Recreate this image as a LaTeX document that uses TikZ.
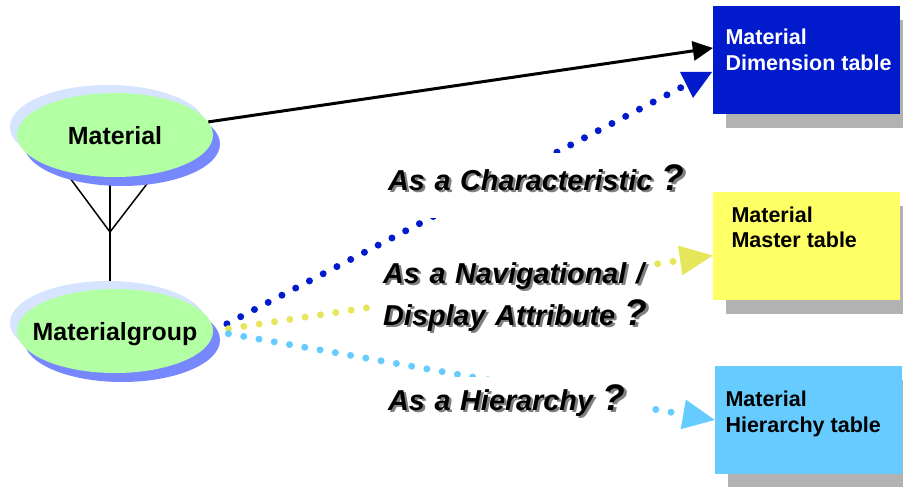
\documentclass[tikz,border=0pt]{standalone}
\usepackage{fontspec}
\setmainfont{Liberation Sans}
\usetikzlibrary{arrows.meta,shapes.geometric,shadows,backgrounds}

\definecolor{verde}{RGB}{179,255,163}
\definecolor{lila}{RGB}{214,228,255}
\definecolor{azulmed}{RGB}{119,136,255}
\definecolor{azulosc}{RGB}{0,26,204}
\definecolor{amarillo}{RGB}{255,255,102}
\definecolor{amarillopunto}{RGB}{230,230,90}
\definecolor{celeste}{RGB}{102,204,255}
\definecolor{gris}{RGB}{178,178,178}

% texto con sombra gris
\newcommand{\consombra}[1]{\leavevmode\rlap{\raisebox{-2.5pt}{\hspace*{2.5pt}\textcolor{gray}{#1}}}\mbox{#1}}
\newcommand{\preg}{{\fontsize{37}{37}\selectfont ?}}

\begin{document}
\begin{tikzpicture}[x=1pt, y=-1pt,
        elipse/.style={ellipse, fill=verde, minimum width=196pt, minimum height=84pt,
            inner xsep=-15pt, inner ysep=0pt,
            font=\fontsize{24.9}{26}\selectfont\bfseries, text height=18pt, text depth=0pt,
            general shadow={fill=lila, shadow xshift=-7pt, shadow yshift=8pt},
            general shadow={fill=azulmed, shadow xshift=7pt, shadow yshift=-9pt}},
        tabla/.style={rectangle, minimum width=187pt, minimum height=108pt, inner sep=0pt,
            drop shadow={shadow xshift=13pt, shadow yshift=-14pt, fill=gris, opacity=1}},
        textotabla/.style={anchor=north west, inner sep=0pt, align=left,
            font=\fontsize{21.5}{25.5}\selectfont\bfseries},
        etiqueta/.style={fill=white, inner ysep=0pt, align=left,
            font=\fontsize{28.8}{42}\selectfont\bfseries\itshape},
        punteado/.style={line width=7pt, line cap=round, dash pattern=on 0pt off 15.5pt}]

        \useasboundingbox (0,0) rectangle (903,487);

        % Elipses
        \node[elipse] (mat) at (115,135) {Material};
        \node[elipse] (matgrp) at (115,331) {Materialgroup};

        % Tablas
        \node[tabla, fill=azulosc,
            label={[textotabla, text=white, xshift=12.5pt, yshift=-23pt]north west:{Material\\Dimension table}}]
            (dimtab) at (806.5,60) {};
        \node[tabla, fill=amarillo,
            label={[textotabla, xshift=18.5pt, yshift=-15pt]north west:{Material\\Master table}}]
            (mastab) at (806.5,245.5) {};
        \node[tabla, fill=celeste,
            label={[textotabla, xshift=10.5pt, yshift=-25pt]north west:{Material\\Hierarchy table}}]
            (hietab) at (808.5,420) {};

        % Pata de gallo
        \coordinate (fork) at (110,232);
        \coordinate (finazul) at (684,86);
        \begin{scope}[on background layer]
            \draw[line width=1.5pt] (mat.216) -- (fork) -- (mat.316);
            \draw[line width=1.5pt] (fork |- mat.south) -- (fork) -- (fork |- matgrp.north);

            % Lineas punteadas
            \draw[punteado, azulosc] (matgrp.east) -- (finazul);
            \draw[punteado, amarillopunto, -{Triangle[length=33pt, width=30pt, line width=0pt]}]
                (matgrp.east) -- ([yshift=-10pt]mastab.west);
            \draw[punteado, celeste, -{Triangle[length=32pt, width=30pt, line width=0pt]}]
                (matgrp.east) -- (hietab.west);
        \end{scope}
        \fill[azulosc] (680,72) -- (712,72) -- (693,98) -- cycle;

        % Flecha negra
        \draw[line width=3pt, -{Triangle[length=20pt, width=20pt, line width=0pt]}]
            (mat.8) -- ([yshift=12pt]dimtab.west);

        % Etiquetas
        \node[etiqueta, anchor=base west, text width=300pt, text height=37pt, text depth=28pt, inner xsep=4pt]
            (lchar) at (384,190) {\consombra{As a Characteristic \preg}};
        \node[etiqueta, anchor=north west, text width=264pt, inner xsep=5pt, inner ysep=7pt]
            (lnav) at (378,255) {\consombra{As a Navigational /}\\\consombra{Display Attribute \preg}};
        \node[etiqueta, anchor=base west, text width=257pt, text height=33pt, text depth=15pt, inner xsep=3pt]
            (lhie) at (385,410) {\consombra{As a Hierarchy \preg}};

\end{tikzpicture}
\end{document}
